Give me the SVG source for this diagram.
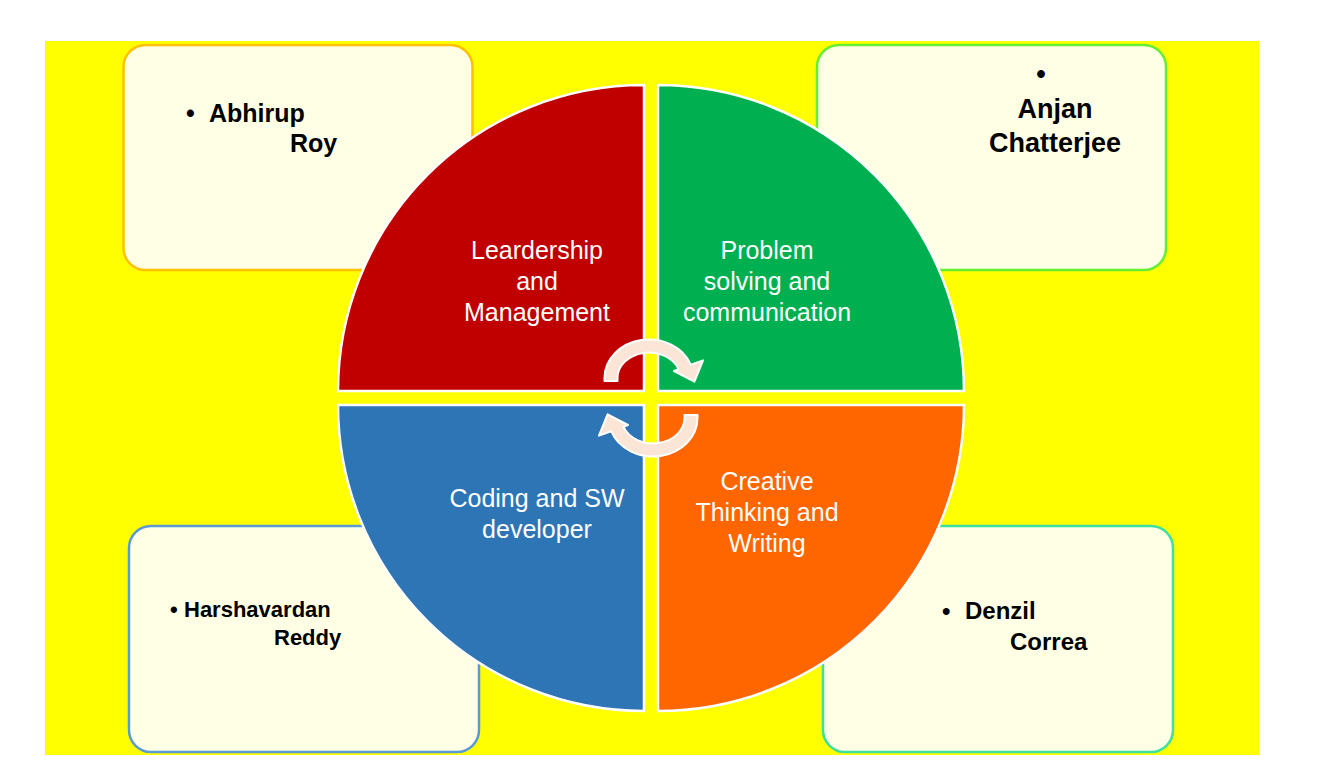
<svg xmlns="http://www.w3.org/2000/svg" width="1321" height="779" viewBox="0 0 1321 779">
  <style>
    .box { fill: #FFFFE5; stroke-width: 2.5; }
    .quad { stroke: #FFFFFF; stroke-width: 2.5; }
    .lbl { font-family: "Liberation Sans", Arial, sans-serif; font-size: 25px; fill: #FFFFFF; text-anchor: middle; }
    .name { font-family: "Liberation Sans", Arial, sans-serif; font-weight: bold; fill: #000000; }
    .arrow { fill: #FBE5D6; stroke: #FFFFFF; stroke-width: 2; stroke-linejoin: round; }
  </style>
  <rect x="0" y="0" width="1321" height="779" fill="#FFFFFF"/>
  <rect x="45" y="41" width="1214" height="714" fill="#FFFF00"/>

  <g id="box-abhirup">
    <rect class="box" x="123.5" y="45" width="349" height="225" rx="22" stroke="#FFC000"/>
    <text class="name" font-size="25"><tspan x="186" y="122">•</tspan><tspan x="209" y="122">Abhirup</tspan><tspan x="290" y="152">Roy</tspan></text>
  </g>
  <g id="box-anjan">
    <rect class="box" x="817" y="45" width="349" height="225" rx="22" stroke="#66EE33"/>
    <text class="name" font-size="27" text-anchor="middle"><tspan x="1041" y="83">•</tspan><tspan x="1055" y="118">Anjan</tspan><tspan x="1055" y="152">Chatterjee</tspan></text>
  </g>
  <g id="box-harshavardan">
    <rect class="box" x="129" y="526" width="350" height="226" rx="22" stroke="#5B9BD5"/>
    <text class="name" font-size="22"><tspan x="170" y="617">•</tspan><tspan x="184" y="617">Harshavardan</tspan><tspan x="274" y="645">Reddy</tspan></text>
  </g>
  <g id="box-denzil">
    <rect class="box" x="823" y="526" width="350" height="226" rx="22" stroke="#3EE0A0"/>
    <text class="name" font-size="24"><tspan x="942" y="619">•</tspan><tspan x="965" y="619">Denzil</tspan><tspan x="1010" y="650">Correa</tspan></text>
  </g>

  <g id="quad-leadership">
    <path class="quad" d="M644 391 L338 391 A306 306 0 0 1 644 85 Z" fill="#C00000"/>
    <text class="lbl"><tspan x="537" y="259">Leardership</tspan><tspan x="537" y="290">and</tspan><tspan x="537" y="321">Management</tspan></text>
  </g>
  <g id="quad-problem">
    <path class="quad" d="M658 391 L658 85 A306 306 0 0 1 964 391 Z" fill="#00B050"/>
    <text class="lbl"><tspan x="767" y="259">Problem</tspan><tspan x="767" y="290">solving and</tspan><tspan x="767" y="321">communication</tspan></text>
  </g>
  <g id="quad-coding">
    <path class="quad" d="M644 405 L644 711 A306 306 0 0 1 338 405 Z" fill="#2E75B6"/>
    <text class="lbl"><tspan x="537" y="507">Coding and SW</tspan><tspan x="537" y="538">developer</tspan></text>
  </g>
  <g id="quad-creative">
    <path class="quad" d="M658 405 L964 405 A306 306 0 0 1 658 711 Z" fill="#FF6600"/>
    <text class="lbl"><tspan x="767" y="490">Creative</tspan><tspan x="767" y="521">Thinking and</tspan><tspan x="767" y="552">Writing</tspan></text>
  </g>

  <g id="connectors">
    <path id="arrow-top" class="arrow" d="M604.5 381 L604.5 378 A44.5 38.5 0 0 1 690.8 364.8 L703 360.4 L694.4 381.7 L674 371 L678.6 369.3 A31.5 25.5 0 0 0 617.5 378 L617.5 381 Z"/>
    <path id="arrow-bottom" class="arrow" transform="rotate(180 651 398)" d="M604.5 381 L604.5 378 A44.5 38.5 0 0 1 690.8 364.8 L703 360.4 L694.4 381.7 L674 371 L678.6 369.3 A31.5 25.5 0 0 0 617.5 378 L617.5 381 Z"/>
  </g>
</svg>
